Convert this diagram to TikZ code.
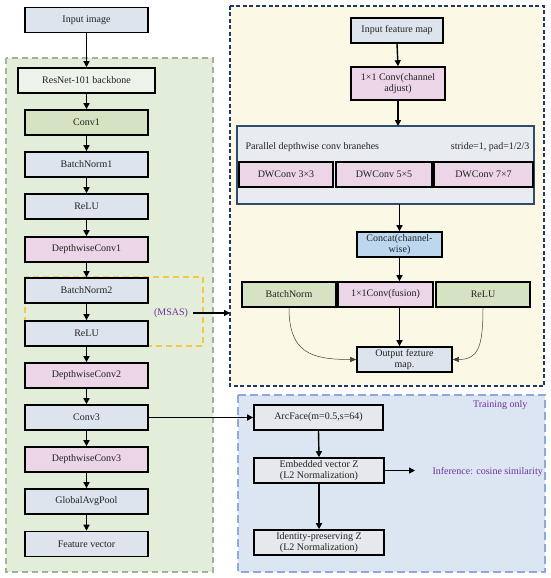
\documentclass[tikz,border=0pt]{standalone}
\usepackage{fontspec}
\setmainfont{Liberation Serif}
\usetikzlibrary{arrows.meta}
\definecolor{greenbg}{HTML}{E2EEDA}
\definecolor{greenbd}{HTML}{A3B394}
\definecolor{beigebg}{HTML}{FBF9E6}
\definecolor{navybd}{HTML}{1F3864}
\definecolor{bluebg}{HTML}{DCE6F2}
\definecolor{bluebd}{HTML}{8EAADB}
\definecolor{boxblue}{HTML}{DEE4EE}
\definecolor{boxpink}{HTML}{EBD5E7}
\definecolor{boxgreen}{HTML}{D5E3C3}
\definecolor{boxlgreen}{HTML}{EEF3EA}
\definecolor{boxcyan}{HTML}{BDD7EE}
\definecolor{parbg}{HTML}{E8EBF0}
\definecolor{parbd}{HTML}{2F4C6E}
\definecolor{boxgrey}{HTML}{E6E8EC}
\definecolor{purp}{HTML}{7030A0}
\definecolor{yell}{HTML}{F4C64A}
\definecolor{txt}{HTML}{222222}
\tikzset{
  every node/.style={font=\fontsize{10}{11}\selectfont, text=txt},
  bx/.style={draw=black, line width=1.6pt, minimum height=25pt, inner sep=1pt, align=center},
  lbx/.style={bx, minimum width=123pt},
  arr/.style={line width=1.4pt, -{Triangle[length=6pt,width=6pt]}},
  thinarr/.style={line width=0.5pt, draw=black!75, -{Triangle[length=6pt,width=5pt]}},
}
\begin{document}
\begin{tikzpicture}[x=1pt,y=-1pt]
\useasboundingbox (0,0) rectangle (550,578);
\fill[white] (0,0) rectangle (550,578);
% containers
\draw[greenbd, fill=greenbg, line width=1.2pt, dash pattern=on 6pt off 4pt] (6,58) rectangle (213,572);
\draw[navybd, fill=beigebg, line width=1.3pt, dash pattern=on 4pt off 2.5pt] (230,6) rectangle (544,386);
\draw[bluebd, fill=bluebg, line width=1.5pt, dash pattern=on 8pt off 4pt] (238,395) rectangle (545,572);
\draw[yell, line width=1.2pt, dash pattern=on 6pt off 4pt] (25,277) rectangle (203,346);

% left column
\node[lbx, fill=boxblue] (inp) at (86.5,20) {Input image};
\node[bx, fill=boxlgreen, minimum width=137pt] (res) at (86.5,80.5) {ResNet-101 backbone};
\node[lbx, fill=boxgreen] (c1) at (86.5,122.5) {Conv1};
\node[lbx, fill=boxblue] (bn1) at (86.5,164.5) {BatchNorm1};
\node[lbx, fill=boxblue] (r1) at (86.5,206.5) {ReLU};
\node[lbx, fill=boxpink] (dw1) at (86.5,249.5) {DepthwiseConv1};
\node[lbx, fill=boxblue] (bn2) at (86.5,290.5) {BatchNorm2};
\node[lbx, fill=boxblue] (r2) at (86.5,333.5) {ReLU};
\node[lbx, fill=boxpink] (dw2) at (86.5,375.5) {DepthwiseConv2};
\node[lbx, fill=boxblue] (c3) at (86.5,417.5) {Conv3};
\node[lbx, fill=boxpink] (dw3) at (86.5,459.5) {DepthwiseConv3};
\node[lbx, fill=boxblue] (gap) at (86.5,501.5) {GlobalAvgPool};
\node[lbx, fill=boxblue] (fv) at (86.5,544) {Feature vector};
\foreach \a/\b in {inp/res,res/c1,c1/bn1,bn1/r1,r1/dw1,dw1/bn2,bn2/r2,r2/dw2,dw2/c3,c3/dw3,dw3/gap,gap/fv}
  \draw[arr] (\a.south) -- (\b.north);

\node[text=purp] (msas) at (171,313) {(MSAS)};
\coordinate (msasend) at (230,313);
\draw[arr] (msas.east) ++(2,0) -- (msasend);

% right top module
\node[bx, fill=boxblue, minimum width=92pt] (ifm) at (397,30.5) {Input feature map};
\node[bx, fill=boxpink, minimum width=94pt, minimum height=33pt] (cadj) at (398,83.5) {1\texttimes1 Conv(channel\\adjust)};
\draw[parbd, fill=parbg, line width=1.2pt] (237,126) rectangle (534,204);
\coordinate (partop) at (398,126);
\coordinate (parbot) at (399.5,204);
\node[anchor=west] (ptxt) at (242,147) {Parallel depthwise conv branehes};
\node[anchor=east] (stxt) at (533,147) {stride=1, pad=1/2/3};
\node[bx, fill=boxpink, minimum width=94pt] (d3) at (286,174.5) {DWConv 3\texttimes3};
\node[bx, fill=boxpink, minimum width=96pt] (d5) at (384,174.5) {DWConv 5\texttimes5};
\node[bx, fill=boxpink, minimum width=99pt] (d7) at (483.5,174.5) {DWConv 7\texttimes7};
\node[bx, fill=boxcyan, minimum width=85pt, inner sep=0pt] (cat) at (399.5,244.5) {Concat(channel-\\wise)};
\node[bx, fill=boxgreen, minimum width=94pt] (bnr) at (289,294.5) {BatchNorm};
\node[bx, fill=boxpink, minimum width=95pt] (fus) at (385.5,294.5) {1\texttimes1Conv(fusion)};
\node[bx, fill=boxgreen, minimum width=94pt] (rlr) at (483,294.5) {ReLU};
\node[bx, fill=boxblue, minimum width=95pt, inner sep=0pt] (out) at (404.5,359.5) {Output fezture\\map.};
\draw[arr] (ifm.south) -- (cadj.north);
\draw[arr] (cadj.south) -- (partop);
\draw[arr] (parbot) -- (cat.north);
\draw[arr] (cat.south) -- (cat.south |- fus.north);
\draw[arr] (cat.south |- fus.south) -- (cat.south |- out.north);
\draw[thinarr] (bnr.south) .. controls +(0,45) and +(-45,0) .. (out.west);
\draw[thinarr] (rlr.south) .. controls +(0,40) and +(25,0) .. (out.east);

% bottom right
\node[anchor=east, text=purp] (train) at (531,405) {Training only};
\node[bx, fill=boxgrey, minimum width=129pt] (arc) at (318.5,417.5) {ArcFace(m=0.5,s=64)};
\node[bx, fill=boxgrey, minimum width=130pt, inner sep=0pt] (emb) at (319,470.5) {Embedded vector Z\\(L2 Normalization)};
\node[bx, fill=boxgrey, minimum width=130pt, inner sep=0pt] (idp) at (319,542.5) {Identity-preserving Z\\(L2 Normalization)};
\coordinate (infend) at (415,470.5);
\node[anchor=west, text=purp] (inf) at (429,472) {Inference: cosine similarity};
\draw[arr] (c3.east) -- (arc.west);
\draw[arr] (arc.south) -- (emb.north);
\draw[arr] (emb.south) -- (idp.north);
\draw[arr] (emb.east) -- (infend);
\end{tikzpicture}
\end{document}
